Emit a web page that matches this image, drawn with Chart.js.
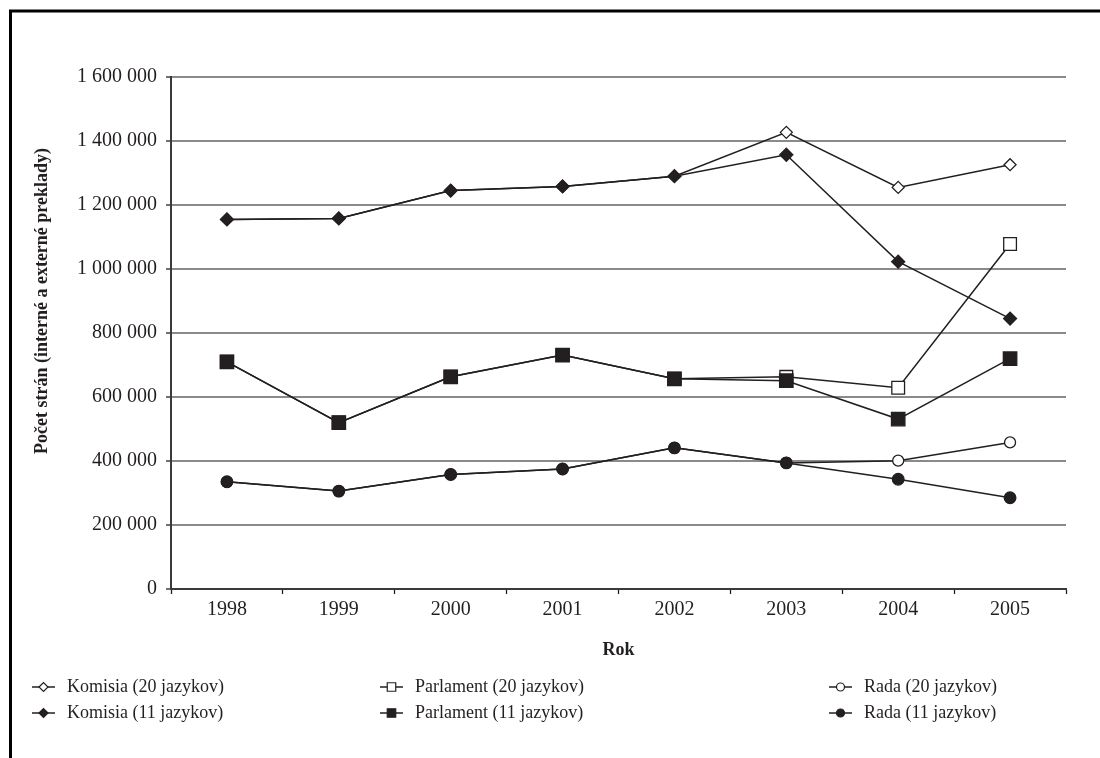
<!DOCTYPE html>
<html>
<head>
<meta charset="utf-8">
<script src="https://cdn.jsdelivr.net/npm/chart.js@4/dist/chart.umd.min.js"></script>
<style>
  html, body { margin: 0; padding: 0; background: #ffffff; }
  canvas { display: block; }
</style>
</head>
<body>
<canvas id="chart" width="1100" height="758"></canvas>
<script>
// Years on the category axis
const years = ['1998', '1999', '2000', '2001', '2002', '2003', '2004', '2005'];

// Pages translated (internal + external), by institution and language regime
const komisia20   = [1155000, 1158000, 1245000, 1258000, 1290000, 1427000, 1255000, 1326000];
const komisia11   = [1155000, 1158000, 1245000, 1258000, 1290000, 1357000, 1023000,  845000];
const parlament20 = [ 710000,  520000,  663000,  731000,  657000,  663000,  629000, 1078000];
const parlament11 = [ 710000,  520000,  663000,  731000,  657000,  651000,  531000,  720000];
const rada20      = [ 335000,  306000,  358000,  375000,  441000,  394000,  401000,  458000];
const rada11      = [ 335000,  306000,  358000,  375000,  441000,  394000,  343000,  285000];

// Value axis ticks
const yTicks = [0, 200000, 400000, 600000, 800000, 1000000, 1200000, 1400000, 1600000];

const seriesLabels = [
  'Komisia (20 jazykov)', 'Parlament (20 jazykov)', 'Rada (20 jazykov)',
  'Komisia (11 jazykov)', 'Parlament (11 jazykov)', 'Rada (11 jazykov)'
];

const INK = '#231f20';
const GRID = '#8a8a8a';
const FONT = "'Liberation Serif', 'Times New Roman', serif";

function lineSeries(label, data, shape, filled, radius, legendRadius, order) {
  return {
    label: label,
    data: data,
    borderColor: INK,
    borderWidth: 1.5,
    tension: 0,
    pointStyle: shape,
    pointRadius: radius,
    pointHoverRadius: radius,
    pointBackgroundColor: filled ? INK : '#ffffff',
    pointBorderColor: INK,
    pointBorderWidth: 1.3,
    legendRadius: legendRadius,
    order: order
  };
}

const datasets = [
  lineSeries(seriesLabels[0], komisia20,   'rectRot', false, 6,   4.5, 2),
  lineSeries(seriesLabels[1], parlament20, 'rect',    false, 9,   6,   2),
  lineSeries(seriesLabels[2], rada20,      'circle',  false, 5.5, 4,   2),
  lineSeries(seriesLabels[3], komisia11,   'rectRot', true,  6.5, 4.5, 1),
  lineSeries(seriesLabels[4], parlament11, 'rect',    true,  9.5, 6,   1),
  lineSeries(seriesLabels[5], rada11,      'circle',  true,  5.8, 4,   1)
];

// Outer frame (only top and left edges fall inside the page)
const framePlugin = {
  id: 'frame',
  beforeDraw(chart) {
    const ctx = chart.ctx;
    ctx.save();
    ctx.fillStyle = '#ffffff';
    ctx.fillRect(0, 0, chart.width, chart.height);
    ctx.strokeStyle = '#000000';
    ctx.lineWidth = 3;
    ctx.beginPath();
    ctx.moveTo(10.5, chart.height);
    ctx.lineTo(10.5, 11);
    ctx.lineTo(chart.width, 11);
    ctx.stroke();
    ctx.restore();
  }
};

// Rotated value-axis title
const yTitlePlugin = {
  id: 'yTitle',
  afterDraw(chart) {
    const ctx = chart.ctx;
    ctx.save();
    ctx.translate(42, 301);
    ctx.rotate(-Math.PI / 2);
    ctx.fillStyle = INK;
    ctx.font = 'bold 18px ' + FONT;
    ctx.textAlign = 'center';
    ctx.textBaseline = 'middle';
    ctx.fillText('Počet strán (interné a externé preklady)', 0, 0);
    ctx.restore();
  }
};

// Legend: three columns, 20-language series on the first row
const legendPlugin = {
  id: 'gridLegend',
  afterDraw(chart) {
    const ctx = chart.ctx;
    const colX = [32, 380, 829];
    const rowY = [687, 713];
    const segLen = 23;
    chart.data.datasets.forEach((ds, i) => {
      const col = i % 3;
      const row = Math.floor(i / 3);
      const x0 = colX[col];
      const y = rowY[row];
      ctx.save();
      ctx.strokeStyle = ds.borderColor;
      ctx.lineWidth = 1.5;
      ctx.beginPath();
      ctx.moveTo(x0, y);
      ctx.lineTo(x0 + segLen, y);
      ctx.stroke();
      ctx.fillStyle = ds.pointBackgroundColor;
      ctx.strokeStyle = ds.pointBorderColor;
      ctx.lineWidth = 1.2;
      Chart.helpers.drawPoint(ctx, {
        pointStyle: ds.pointStyle,
        radius: ds.legendRadius,
        rotation: 0,
        borderWidth: 1.2
      }, x0 + segLen / 2, y);
      ctx.fillStyle = INK;
      ctx.font = '18px ' + FONT;
      ctx.textAlign = 'left';
      ctx.textBaseline = 'middle';
      ctx.fillText(ds.label, x0 + 35, y);
      ctx.restore();
    });
  }
};

const spaced = v => String(v).replace(/\B(?=(\d{3})+(?!\d))/g, ' ');

new Chart(document.getElementById('chart'), {
  type: 'line',
  data: { labels: years, datasets: datasets },
  options: {
    responsive: false,
    animation: false,
    devicePixelRatio: 1,
    layout: { padding: { left: 20, top: 77, right: 34, bottom: 97 } },
    plugins: {
      legend: { display: false },
      tooltip: { enabled: false },
      title: { display: false }
    },
    scales: {
      x: {
        type: 'category',
        offset: true,
        grid: {
          offset: true,
          drawOnChartArea: false,
          drawTicks: true,
          tickLength: 5,
          tickColor: INK,
          tickWidth: 1.3
        },
        border: { display: true, color: '#3a3a3a', width: 2 },
        ticks: {
          color: INK,
          font: { family: FONT, size: 20 },
          padding: 4,
          maxRotation: 0
        },
        title: {
          display: true,
          text: 'Rok',
          color: INK,
          font: { family: FONT, size: 18, weight: 'bold' },
          padding: { top: 0, bottom: 0 }
        },
        afterFit(scale) { scale.height = 72; }
      },
      y: {
        min: yTicks[0],
        max: yTicks[yTicks.length - 1],
        afterBuildTicks(scale) { scale.ticks = yTicks.map(v => ({ value: v })); },
        grid: {
          color: GRID,
          lineWidth: 2,
          drawTicks: true,
          tickLength: 5,
          tickColor: INK,
          tickWidth: 1.3
        },
        border: { display: true, color: '#3a3a3a', width: 2 },
        ticks: {
          color: INK,
          font: { family: FONT, size: 20 },
          padding: 9,
          callback: v => spaced(v)
        },
        title: { display: false },
        afterFit(scale) { scale.width = 151; }
      }
    }
  },
  plugins: [framePlugin, yTitlePlugin, legendPlugin]
});
</script>
</body>
</html>
